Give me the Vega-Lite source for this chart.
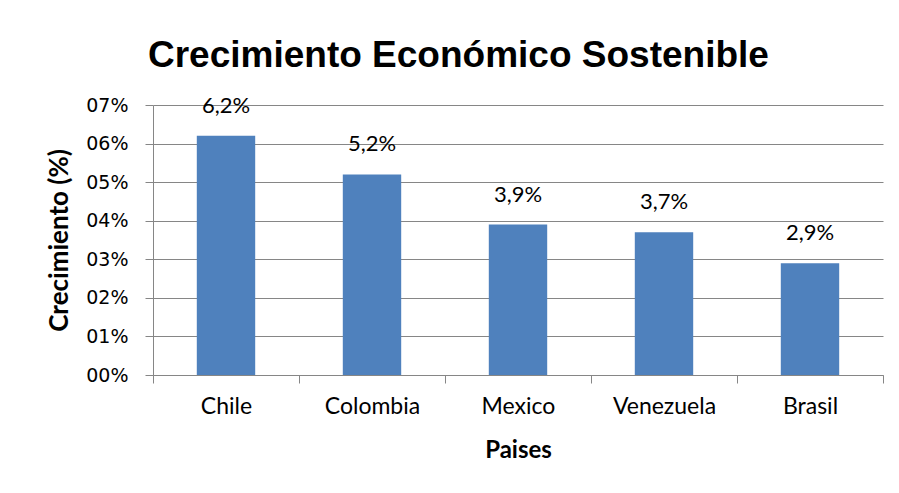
{
  "$schema": "https://vega.github.io/schema/vega-lite/v6.json",
  "autosize": {"type": "none"},
  "width": 730,
  "height": 270,
  "padding": {"left": 153, "top": 105, "right": 16, "bottom": 118},
  "background": "white",
  "config": {
    "locale": {"number": {"decimal": ",", "thousands": ".", "grouping": [3], "currency": ["", "€"]}},
    "view": {"stroke": null},
    "axis": {"domainColor": "#868686", "tickColor": "#868686", "gridColor": "#868686", "gridOpacity": 1, "tickSize": 8}
  },
  "title": {
    "text": "Crecimiento Económico Sostenible",
    "font": "Liberation Sans",
    "fontSize": 37,
    "fontWeight": "bold",
    "color": "#000000",
    "anchor": "start",
    "frame": "group",
    "baseline": "alphabetic",
    "dx": -5,
    "dy": 49,
    "offset": 40
  },
  "data": {
    "values": [
      {"pais": "Chile", "crecimiento": 0.062},
      {"pais": "Colombia", "crecimiento": 0.052},
      {"pais": "Mexico", "crecimiento": 0.039},
      {"pais": "Venezuela", "crecimiento": 0.037},
      {"pais": "Brasil", "crecimiento": 0.029}
    ]
  },
  "encoding": {
    "x": {
      "field": "pais",
      "type": "nominal",
      "sort": null,
      "scale": {"paddingInner": 0, "paddingOuter": 0},
      "axis": {
        "title": "Paises",
        "titleFont": "Lato",
        "titleFontSize": 24,
        "titleFontWeight": "bold",
        "titleColor": "#000000",
        "titlePadding": 20,
        "labelFont": "Lato",
        "labelFontSize": 23,
        "labelColor": "#000000",
        "labelAngle": 0,
        "labelPadding": 12,
        "tickBand": "extent",
        "grid": false
      }
    },
    "y": {
      "field": "crecimiento",
      "type": "quantitative",
      "scale": {"domain": [0, 0.07]},
      "axis": {
        "title": "Crecimiento (%)",
        "titleFont": "Lato",
        "titleFontSize": 26,
        "titleFontWeight": "bold",
        "titleColor": "#000000",
        "titlePadding": 13,
        "values": [0, 0.01, 0.02, 0.03, 0.04, 0.05, 0.06, 0.07],
        "format": "03.0%",
        "labelFont": "DejaVu Sans",
        "labelFontSize": 19,
        "labelColor": "#000000",
        "labelPadding": 17,
        "grid": true
      }
    }
  },
  "layer": [
    {
      "mark": {"type": "bar", "color": "#4F81BD", "width": {"band": 0.4}}
    },
    {
      "mark": {"type": "text", "baseline": "alphabetic", "dy": -23, "font": "Lato", "fontSize": 22, "color": "#000000"},
      "encoding": {
        "text": {"field": "crecimiento", "type": "quantitative", "format": ".1%"}
      }
    }
  ]
}
